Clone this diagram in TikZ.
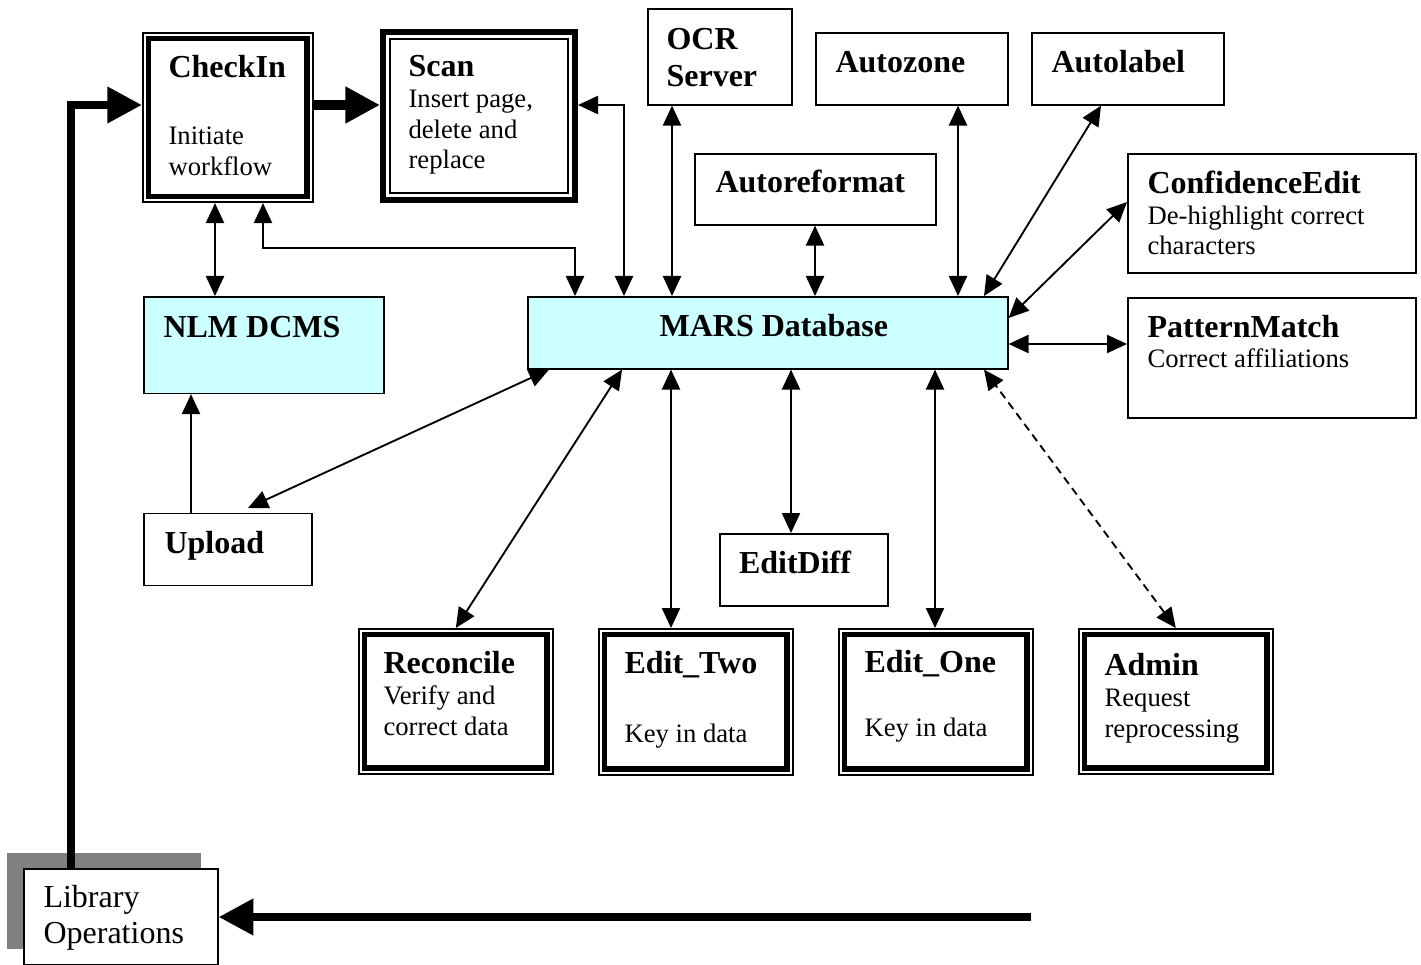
\documentclass[tikz,border=0pt]{standalone}
\usepackage{fontspec}
\setmainfont{Liberation Serif}
\usetikzlibrary{arrows.meta,shadows}

\definecolor{marscyan}{HTML}{CCFFFF}
\definecolor{shadowgray}{HTML}{808080}

% box titles are larger than the descriptions
\newcommand{\ttl}[1]{{\fontsize{12pt}{11.6pt}\selectfont\bfseries #1}}

\tikzset{
  box/.style={draw, line width=0.6pt, anchor=north west, inner sep=0pt},
  dblbox/.style={box},
  scanbox/.style={box, line width=2.4pt},
  txt/.style={anchor=base west, align=left, inner sep=0pt, font=\fontsize{10pt}{11.6pt}\selectfont},
  conn/.style={line width=0.7pt, {Triangle[length=7.5pt, width=6.8pt]}-{Triangle[length=7.5pt, width=6.8pt]}},
  conn1/.style={line width=0.7pt, -{Triangle[length=7.5pt, width=6.8pt]}},
  bigarrow/.style={line width=3pt, -{Triangle[length=13pt, width=13pt]}},
}

\begin{document}
\begin{tikzpicture}[x=0.375pt, y=-0.375pt]
\useasboundingbox (0,0) rectangle (1421,965);

% boxes
\node[dblbox, minimum width=63.75pt, minimum height=63.56pt] (checkin) at (142,32) {};
\node[scanbox, minimum width=71.85pt, minimum height=62.85pt] (scan) at (380,29) {};
\node[box, minimum width=54pt, minimum height=36pt] (ocr) at (647,8) {};
\node[box, minimum width=72pt, minimum height=27pt] (autozone) at (815,32) {};
\node[box, minimum width=72pt, minimum height=27pt] (autolabel) at (1031,32) {};
\node[box, minimum width=90.38pt, minimum height=26.63pt] (autoref) at (694,153) {};
\node[box, minimum width=108pt, minimum height=44.63pt] (confedit) at (1127,153) {};
\node[box, minimum width=108pt, minimum height=45pt] (patmatch) at (1127,297) {};
\node[box, fill=marscyan, minimum width=180pt, minimum height=27pt] (mars) at (527,296) {};
\node[box, fill=marscyan, minimum width=90pt, minimum height=36.19pt] (nlm) at (143,296) {};
\node[box, minimum width=63pt, minimum height=27pt] (upload) at (143,512.5) {};
\node[box, minimum width=63pt, minimum height=27pt] (editdiff) at (719,533) {};
\node[dblbox, minimum width=72.75pt, minimum height=54.38pt] (reconcile) at (358,628) {};
\node[dblbox, minimum width=72.75pt, minimum height=54.75pt] (edittwo) at (598,628) {};
\node[dblbox, minimum width=72.75pt, minimum height=54.75pt] (editone) at (838,628) {};
\node[dblbox, minimum width=72.75pt, minimum height=54.38pt] (admin) at (1078,628) {};
\node[box, fill=white, minimum width=72.75pt, minimum height=36pt,
  drop shadow={shadow xshift=-6.4pt, shadow yshift=6pt, fill=shadowgray, opacity=1}] (libops) at (23,868) {};

% inner frames
\foreach \n in {checkin,reconcile,edittwo,editone,admin}
  \draw[line width=2pt] ([shift={(6.5,6.5)}]\n.north west) rectangle ([shift={(-6.5,-6.5)}]\n.south east);
\draw[line width=0.6pt] ([shift={(10,10)}]scan.north west) rectangle ([shift={(-10,-10)}]scan.south east);

% texts (placed at the baseline of their last line)
\node[txt] (checkin-t) at ([shift={(26,143.7)}]checkin.north west) {\ttl{CheckIn}\\[13.7pt]Initiate\\workflow};
\node[txt] (scan-t) at ([shift={(28,140)}]scan.north west) {\ttl{Scan}\\Insert page,\\delete and\\replace};
\node[txt] (ocr-t) at ([shift={(19,79)}]ocr.north west) {\ttl{OCR}\\[2.6pt]\ttl{Server}};
\node[txt] (autozone-t) at ([shift={(20,41)}]autozone.north west) {\ttl{Autozone}};
\node[txt] (autolabel-t) at ([shift={(20,41)}]autolabel.north west) {\ttl{Autolabel}};
\node[txt] (autoref-t) at ([shift={(21,40)}]autoref.north west) {\ttl{Autoreformat}};
\node[txt] (confedit-t) at ([shift={(20,102)}]confedit.north west) {\ttl{ConfidenceEdit}\\De-highlight correct\\characters};
\node[txt] (patmatch-t) at ([shift={(20,71)}]patmatch.north west) {\ttl{PatternMatch}\\Correct affiliations};
\node[txt, anchor=base] (mars-t) at ([shift={(6,41)}]mars.north) {\ttl{MARS Database}};
\node[txt] (nlm-t) at ([shift={(20,41.5)}]nlm.north west) {\ttl{NLM DCMS}};
\node[txt] (upload-t) at ([shift={(21,40.5)}]upload.north west) {\ttl{Upload}};
\node[txt] (editdiff-t) at ([shift={(19.5,40)}]editdiff.north west) {\ttl{EditDiff}};
\node[txt] (reconcile-t) at ([shift={(25,107)}]reconcile.north west) {\ttl{Reconcile}\\Verify and\\correct data};
\node[txt] (edittwo-t) at ([shift={(26,114.7)}]edittwo.north west) {\ttl{Edit\_Two}\\[14.5pt]Key in data};
\node[txt] (editone-t) at ([shift={(26,108.7)}]editone.north west) {\ttl{Edit\_One}\\[12.3pt]Key in data};
\node[txt] (admin-t) at ([shift={(26,109)}]admin.north west) {\ttl{Admin}\\Request\\reprocessing};
\node[txt, font=\fontsize{12pt}{11.6pt}\selectfont] (libops-t) at ([shift={(20,75)}]libops.north west) {Library\\[1.9pt]Operations};

% workflow arrows
\coordinate (feed) at (1031,917);
\draw[bigarrow] (70.5,0 |- libops.north) |- (checkin.west |- 0,105);
\draw[bigarrow, line width=3.6pt] (checkin.east |- 0,105) -- (scan.west |- 0,105);
\draw[bigarrow] (feed) -- (libops.east |- feed);

% connectors
\draw[conn] (215,0 |- checkin.south) -- (215,0 |- nlm.north);
\draw[conn] (263,0 |- checkin.south) |- (575,248) -- (575,0 |- mars.north);
\draw[conn] (scan.east |- 0,105) -| (624,0 |- mars.north);
\draw[conn] (672,0 |- ocr.south) -- (672,0 |- mars.north);
\draw[conn] (815,0 |- autoref.south) -- (815,0 |- mars.north);
\draw[conn] (958,0 |- autozone.south) -- (958,0 |- mars.north);
\draw[conn] (1101,0 |- autolabel.south) -- (984,0 |- mars.north);
\draw[conn] (confedit.west |- 0,202) -- (mars.east |- 0,318);
\draw[conn] (mars.east |- 0,344) -- (patmatch.west |- 0,344);
\draw[conn1] (191,0 |- upload.north) -- (191,0 |- nlm.south);
\draw[conn] (248,508) -- (549,0 |- mars.south);
\draw[conn] (reconcile.north) -- (622,0 |- mars.south);
\draw[conn] (671,0 |- edittwo.north) -- (671,0 |- mars.south);
\draw[conn] (791,0 |- editdiff.north) -- (791,0 |- mars.south);
\draw[conn] (935,0 |- editone.north) -- (935,0 |- mars.south);
\draw[conn, dash pattern=on 3pt off 2pt] (admin.north) -- (984,0 |- mars.south);
\end{tikzpicture}
\end{document}
